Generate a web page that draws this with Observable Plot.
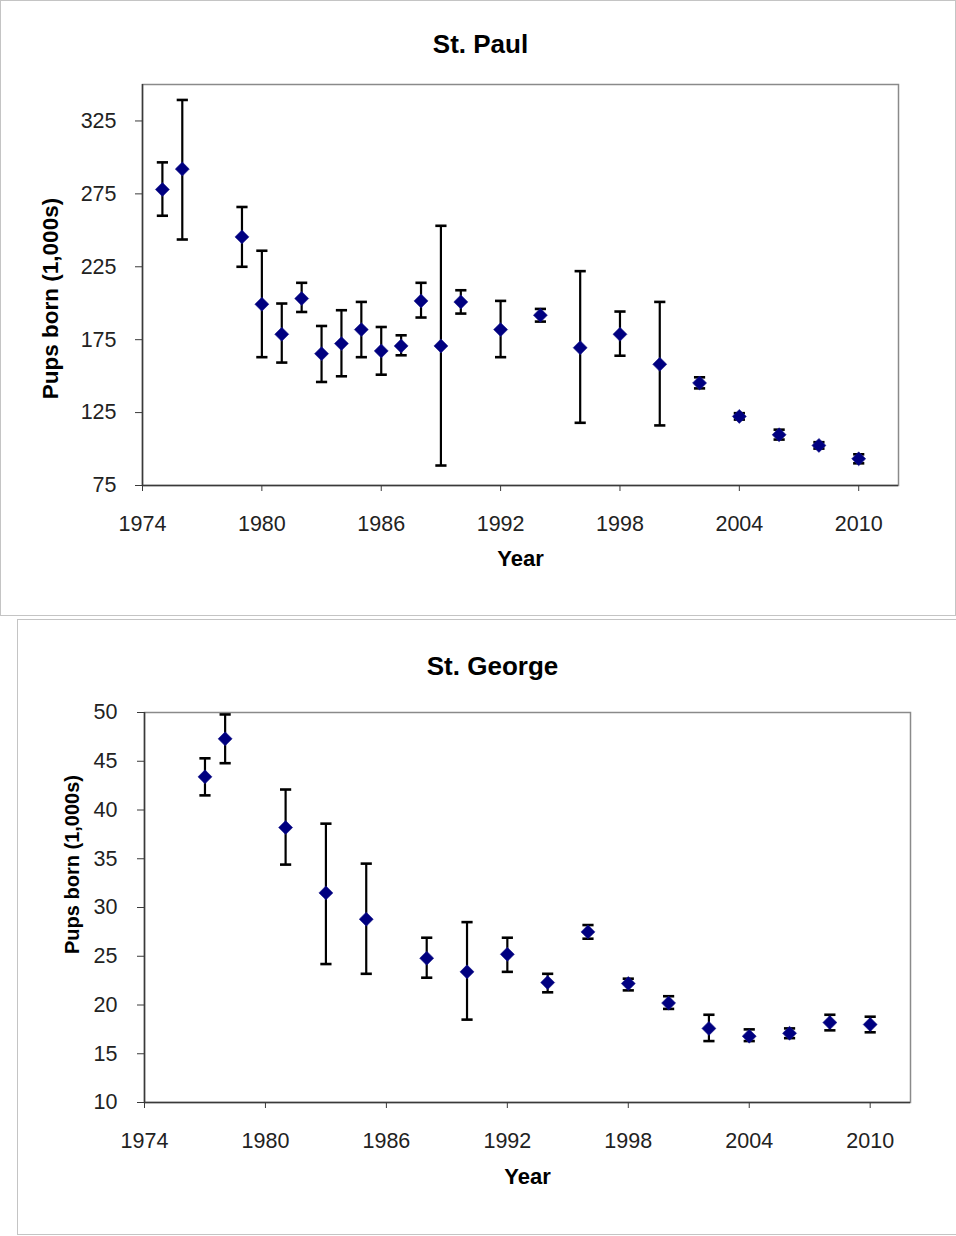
<!DOCTYPE html>
<html>
<head>
<meta charset="utf-8">
<script src="https://cdn.jsdelivr.net/npm/d3@7"></script>
<script src="https://cdn.jsdelivr.net/npm/@observablehq/plot@0.6"></script>
<style>
  html, body { margin: 0; padding: 0; background: #fff; overflow: hidden; }
  body { width: 956px; height: 1236px; position: relative; }
  .box { position: absolute; border: 1px solid #c4c4c4; background: #fff; }
  .box svg { display: block; }
</style>
</head>
<body>
<div id="box1" class="box" style="left:0px; top:0px; width:954px; height:614px;"></div>
<div id="box2" class="box" style="left:17px; top:619px; width:960px; height:614px;"></div>
<script>
// ---------- data ----------
const xTicks = [1974, 1980, 1986, 1992, 1998, 2004, 2010];

// St. Paul (pups born, 1,000s)
const spYears = [1975, 1976, 1979, 1980, 1981, 1982, 1983, 1984, 1985, 1986, 1987, 1988, 1989, 1990, 1992, 1994, 1996, 1998, 2000, 2002, 2004, 2006, 2008, 2010];
const spPups  = [278, 292, 245.5, 199.3, 178.7, 203.2, 165.4, 172.3, 181.9, 167.3, 170.7, 201.6, 170.7, 200.9, 181.9, 191.8, 169.5, 178.7, 158.1, 145.3, 122.4, 109.8, 102.5, 93.3];
const spLow   = [260, 243.7, 225, 163, 159.3, 194, 146, 149.9, 163, 151, 164.3, 190.2, 88.7, 192.9, 163, 187.4, 118, 164, 116.2, 141.6, 120.2, 106.5, 100.3, 90.2];
const spHigh  = [296.6, 339.4, 266, 236, 199.8, 214, 184.4, 195.2, 200.9, 183.7, 178, 214, 253.1, 208.9, 201.6, 196.1, 222, 194.3, 200.9, 149.2, 124.6, 113.3, 104.7, 96.4];
const spYTicks = [75, 125, 175, 225, 275, 325];
const spYDomain = [75, 350];

// St. George (pups born, 1,000s)
const sgYears = [1977, 1978, 1981, 1983, 1985, 1988, 1990, 1992, 1994, 1996, 1998, 2000, 2002, 2004, 2006, 2008, 2010];
const sgPups  = [43.4, 47.3, 38.2, 31.5, 28.8, 24.8, 23.4, 25.2, 22.3, 27.5, 22.2, 20.2, 17.6, 16.8, 17.1, 18.2, 18.0];
const sgLow   = [41.5, 44.8, 34.4, 24.2, 23.2, 22.8, 18.5, 23.4, 21.3, 26.8, 21.5, 19.6, 16.3, 16.3, 16.6, 17.4, 17.2];
const sgHigh  = [45.3, 49.8, 42.1, 38.6, 34.5, 26.9, 28.5, 26.9, 23.2, 28.2, 22.7, 20.9, 19.0, 17.5, 17.6, 19.0, 18.8];
const sgYTicks = [10, 15, 20, 25, 30, 35, 40, 45, 50];
const sgYDomain = [10, 50];

const xDomain = [1974, 2012];

// ---------- helpers ----------
const capSymbol = {
  draw(context) {
    context.moveTo(-5.6, 0);
    context.lineTo(5.6, 0);
  }
};

function rows(years, pups, low, high) {
  return years.map((year, i) => ({year, pups: pups[i], low: low[i], high: high[i]}));
}

function chart(cfg) {
  const data = rows(cfg.years, cfg.pups, cfg.low, cfg.high);
  return Plot.plot({
    width: cfg.width,
    height: cfg.height,
    marginLeft: cfg.m[0],
    marginTop: cfg.m[1],
    marginRight: cfg.m[2],
    marginBottom: cfg.m[3],
    style: {fontFamily: "'Liberation Sans', Arial, sans-serif", fontSize: "21.5px", color: "#222", background: "#fff"},
    x: {domain: xDomain, nice: false},
    y: {domain: cfg.yDomain, nice: false},
    marks: [
      Plot.frame({stroke: "#8a8a8a", strokeWidth: 1.5}),
      Plot.ruleX([xDomain[0]], {stroke: "#3a3a3a", strokeWidth: 1.5}),
      Plot.ruleY([cfg.yDomain[0]], {stroke: "#3a3a3a", strokeWidth: 1.5}),
      Plot.axisX({ticks: xTicks, tickFormat: d => String(d), tickSize: 6, tickPadding: 24, label: null, stroke: "#3a3a3a"}),
      Plot.axisY({ticks: cfg.yTicks, tickFormat: d => String(d), tickSize: cfg.ytick[0], tickPadding: cfg.ytick[1], label: null, stroke: "#3a3a3a"}),
      Plot.ruleX(data, {x: "year", y1: "low", y2: "high", stroke: "#000", strokeWidth: 2.2}),
      Plot.dot(data, {x: "year", y: "low", symbol: capSymbol, r: 5, fill: "none", stroke: "#000", strokeWidth: 2.6}),
      Plot.dot(data, {x: "year", y: "high", symbol: capSymbol, r: 5, fill: "none", stroke: "#000", strokeWidth: 2.6}),
      Plot.dot(data, {x: "year", y: "pups", symbol: "diamond2", r: 6.3, fill: "#000080", stroke: "#1a1a8c", strokeWidth: 0.6}),
      Plot.text([cfg.title], {frameAnchor: "top", lineAnchor: "middle", textAnchor: "middle", dx: cfg.titlePos[0], dy: cfg.titlePos[1], fontSize: 26, fontWeight: "bold", fill: "#000"}),
      Plot.text(["Year"], {frameAnchor: "bottom", lineAnchor: "middle", textAnchor: "middle", dx: cfg.xLabelPos[0], dy: cfg.xLabelPos[1], fontSize: 22, fontWeight: "bold", fill: "#000"}),
      Plot.text(["Pups born (1,000s)"], {frameAnchor: "left", lineAnchor: "middle", textAnchor: "middle", dx: cfg.yLabelPos[0], dy: cfg.yLabelPos[1], rotate: -90, fontSize: cfg.yLabelSize, fontWeight: "bold", fill: "#000"})
    ]
  });
}

document.getElementById("box1").appendChild(chart({
  years: spYears, pups: spPups, low: spLow, high: spHigh,
  yTicks: spYTicks, yDomain: spYDomain,
  width: 954, height: 614,
  m: [141, 83, 57, 130],
  ytick: [7, 19],
  title: "St. Paul",
  titlePos: [-40, -40],
  xLabelPos: [0, 73],
  yLabelPos: [-92, 13.5],
  yLabelSize: 22.5
}));

document.getElementById("box2").appendChild(chart({
  years: sgYears, pups: sgPups, low: sgLow, high: sgHigh,
  yTicks: sgYTicks, yDomain: sgYDomain,
  width: 960, height: 614,
  m: [126, 92, 68, 132],
  ytick: [7, 20],
  title: "St. George",
  titlePos: [-35, -46],
  xLabelPos: [0, 74],
  yLabelPos: [-72, -43],
  yLabelSize: 20
}));
</script>
</body>
</html>
